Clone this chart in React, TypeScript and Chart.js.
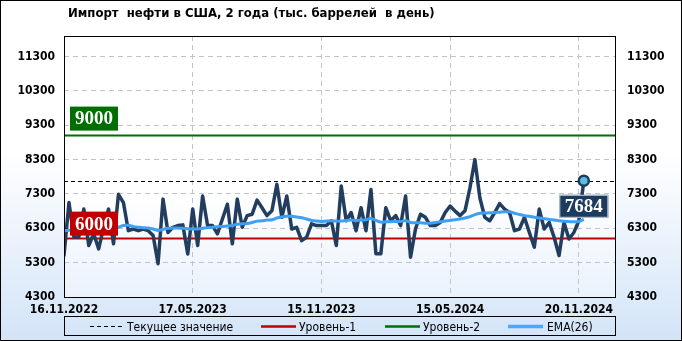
import React, { useEffect, useRef } from "react";
import { Chart, registerables } from "chart.js";

Chart.register(...registerables);

const TITLE = "Импорт  нефти в США, 2 года (тыс. баррелей  в день)";

const VALUES = [
  5510, 7050, 6050, 6050, 6860, 5800, 6140, 5700, 6330, 6860,
  5850, 7290, 7050, 6230, 6280, 6230, 6280, 6230, 6090, 5270,
  7150, 6180, 6330, 6380, 6400, 5550, 6860, 5800, 7240, 6380,
  6380, 6140, 6570, 7000, 5850, 7150, 6330, 6670, 6710, 7120,
  6900, 6670, 6810, 7580, 6620, 7240, 6280, 6330, 5940, 6040,
  6430, 6380, 6380, 6380, 6520, 5800, 7530, 6520, 6760, 6230,
  6900, 6230, 7430, 5560, 5560, 6900, 6520, 6670, 6380, 7240,
  5460, 6280, 6710, 6620, 6380, 6380, 6470, 6760, 6950, 6800,
  6670, 6810, 7480, 8300, 7190, 6620, 6520, 6760, 7020, 6860,
  6760, 6230, 6280, 6620, 6180, 5750, 6860, 6280, 6470, 6040,
  5510, 6470, 5990, 6180, 6520, 7684,
];

const EMA_26 = [
  6230, 6240, 6250, 6260, 6270, 6280, 6290, 6290, 6300, 6300,
  6310, 6330, 6380, 6390, 6350, 6330, 6320, 6310, 6280, 6240,
  6270, 6300, 6310, 6310, 6300, 6290, 6280, 6280, 6300, 6320,
  6330, 6345, 6355, 6370, 6380, 6420, 6430, 6440, 6470, 6510,
  6520, 6540, 6550, 6600, 6630, 6650, 6650, 6630, 6610, 6570,
  6530, 6510, 6500, 6510, 6520, 6510, 6510, 6530, 6540, 6530,
  6540, 6550, 6590, 6530, 6480, 6490, 6490, 6500, 6500, 6520,
  6470, 6460, 6460, 6450, 6450, 6470, 6490, 6510, 6530, 6550,
  6570, 6600, 6640, 6700, 6740, 6745, 6750, 6760, 6770, 6780,
  6780, 6740, 6700, 6670, 6650, 6620, 6600, 6580, 6560, 6540,
  6520, 6505, 6495, 6490, 6500, 6560,
];

const X_TICKS = [0, 26, 52, 78, 104];
const X_TICK_LABELS = ["16.11.2022", "17.05.2023", "15.11.2023", "15.05.2024", "20.11.2024"];
const Y_TICKS = [4300, 5300, 6300, 7300, 8300, 9300, 10300, 11300];
const Y_MIN = 4300;
const Y_MAX = 11900;
const X_MAX = 111.3;
const LEVEL_1 = 6000;
const LEVEL_2 = 9000;
const LEGEND_LABELS = ["Текущее значение", "Уровень-1", "Уровень-2", "EMA(26)"];

const SANS = "'DejaVu Sans Condensed', 'DejaVu Sans', 'Liberation Sans', sans-serif";
const SERIF = "'Liberation Serif', 'DejaVu Serif', serif";
const NAVY = "#223d5e";
const EMA_COLOR = "#3fa0f2";
const RED = "#c00000";
const GREEN = "#006e00";

function levelLabel(ctx: CanvasRenderingContext2D, text: string, x: number, bottom: number, fill: string) {
  const w = 48;
  const h = 24;
  ctx.fillStyle = fill;
  ctx.fillRect(x, bottom - h, w, h);
  ctx.fillStyle = "#ffffff";
  ctx.font = `bold 19px ${SERIF}`;
  ctx.textAlign = "center";
  ctx.textBaseline = "middle";
  ctx.fillText(text, x + w / 2, bottom - h / 2 + 1);
}

const drawPlugin = {
  id: "customDraw",
  beforeDraw(chart: any) {
    const { ctx, chartArea: a, width, height } = chart;
    ctx.save();
    const g = ctx.createLinearGradient(0, 0, 0, height);
    g.addColorStop(0, "#ffffff");
    g.addColorStop(0.45, "#ffffff");
    g.addColorStop(1, "#d3e4f8");
    ctx.fillStyle = g;
    ctx.fillRect(0, 0, width, height);
    const g2 = ctx.createLinearGradient(0, a.top, 0, a.bottom);
    g2.addColorStop(0, "#ffffff");
    g2.addColorStop(0.6, "#ffffff");
    g2.addColorStop(1, "#eaf2fc");
    ctx.fillStyle = g2;
    ctx.fillRect(a.left, a.top, a.right - a.left, a.bottom - a.top);
    ctx.restore();
  },
  beforeDatasetsDraw(chart: any) {
    const { ctx, chartArea: a, scales } = chart;
    const y = scales.y;
    ctx.save();
    ctx.beginPath();
    ctx.rect(a.left, a.top, a.right - a.left, a.bottom - a.top);
    ctx.clip();
    const cur = VALUES[VALUES.length - 1];
    const yc = Math.round(y.getPixelForValue(cur)) + 0.5;
    ctx.strokeStyle = "#000";
    ctx.lineWidth = 1;
    ctx.setLineDash([4, 3]);
    ctx.beginPath();
    ctx.moveTo(a.left, yc);
    ctx.lineTo(a.right, yc);
    ctx.stroke();
    ctx.setLineDash([]);
    ctx.lineWidth = 2;
    ctx.strokeStyle = RED;
    const y1 = y.getPixelForValue(LEVEL_1);
    ctx.beginPath();
    ctx.moveTo(a.left, y1);
    ctx.lineTo(a.right, y1);
    ctx.stroke();
    ctx.strokeStyle = GREEN;
    const y2 = y.getPixelForValue(LEVEL_2);
    ctx.beginPath();
    ctx.moveTo(a.left, y2);
    ctx.lineTo(a.right, y2);
    ctx.stroke();
    ctx.restore();
  },
  afterDatasetsDraw(chart: any) {
    const { ctx, chartArea: a, scales, width, height } = chart;
    const y = scales.y;
    const x = scales.x;
    ctx.save();
    levelLabel(ctx, String(LEVEL_1), a.left + 6, y.getPixelForValue(LEVEL_1) - 3, RED);
    levelLabel(ctx, String(LEVEL_2), a.left + 6, y.getPixelForValue(LEVEL_2) - 5, GREEN);
    const last = VALUES.length - 1;
    const px = x.getPixelForValue(last);
    const py = y.getPixelForValue(VALUES[last]);
    const bw = 49;
    const bh = 23;
    const bx = px - bw / 2;
    const by = py + 14;
    ctx.fillStyle = "#1d3a5f";
    ctx.fillRect(bx, by, bw, bh);
    ctx.strokeStyle = "#c5d3e2";
    ctx.lineWidth = 1;
    ctx.strokeRect(bx + 0.5, by + 0.5, bw - 1, bh - 1);
    ctx.fillStyle = "#fff";
    ctx.font = `bold 19px ${SERIF}`;
    ctx.textAlign = "center";
    ctx.textBaseline = "middle";
    ctx.fillText(String(VALUES[last]), px, by + bh / 2 + 1);
    ctx.strokeStyle = "#000";
    ctx.lineWidth = 1;
    ctx.strokeRect(Math.round(a.left) + 0.5, Math.round(a.top) + 0.5, Math.round(a.right - a.left), Math.round(a.bottom - a.top));
    ctx.strokeRect(0.5, 0.5, width - 1, height - 1);
    ctx.fillStyle = "#000";
    ctx.font = `bold 13px ${SANS}`;
    ctx.textAlign = "left";
    ctx.textBaseline = "middle";
    ctx.fillText(TITLE, 68, 14);
    const ly = 326.5;
    ctx.strokeRect(Math.round(a.left) + 0.5, 316.5, Math.round(a.right - a.left), 19);
    ctx.font = `12px ${SANS}`;
    ctx.fillStyle = "#000";
    const items = [
      { x0: 90, x1: 122, color: "#000", w: 1, dash: [4, 3], tx: 127 },
      { x0: 261, x1: 296, color: RED, w: 2.5, dash: [], tx: 299 },
      { x0: 385, x1: 420, color: GREEN, w: 2.5, dash: [], tx: 423 },
      { x0: 508, x1: 543, color: "#4aa8ff", w: 3.5, dash: [], tx: 547 },
    ];
    items.forEach((it, i) => {
      ctx.strokeStyle = it.color;
      ctx.lineWidth = it.w;
      ctx.setLineDash(it.dash);
      ctx.beginPath();
      ctx.moveTo(it.x0, ly);
      ctx.lineTo(it.x1, ly);
      ctx.stroke();
      ctx.setLineDash([]);
      ctx.fillText(LEGEND_LABELS[i], it.tx, ly + 1);
    });
    ctx.restore();
  },
};

export default function App() {
  const ref = useRef<HTMLCanvasElement | null>(null);
  useEffect(() => {
    document.body.style.margin = "0";
    const canvas = ref.current;
    if (!canvas) return;
    const last = VALUES.length - 1;
    const tickFont = { family: SANS, size: 12, weight: "bold" as const };
    const chart = new Chart(canvas, {
      type: "line",
      data: {
        datasets: [
          {
            label: "EMA(26)",
            data: EMA_26.map((v, i) => ({ x: i, y: v })),
            borderColor: EMA_COLOR,
            borderWidth: 3,
            pointRadius: 0,
            tension: 0.3,
            order: 0,
          },
          {
            label: "Импорт",
            data: VALUES.map((v, i) => ({ x: i, y: v })),
            borderColor: NAVY,
            borderWidth: 3.5,
            borderJoinStyle: "round",
            borderCapStyle: "round",
            pointRadius: (c: any) => (c.dataIndex === last ? 5 : 0),
            pointBackgroundColor: "#5bbde0",
            pointBorderColor: "#1d3a5f",
            pointBorderWidth: 2.5,
            tension: 0,
            order: 1,
          },
        ],
      },
      options: {
        responsive: false,
        animation: false,
        devicePixelRatio: 1,
        layout: { padding: { top: 36, left: 0, right: 0, bottom: 0 } },
        plugins: { legend: { display: false }, tooltip: { enabled: false }, title: { display: false } },
        scales: {
          x: {
            type: "linear",
            min: 0,
            max: X_MAX,
            afterBuildTicks: (s: any) => {
              s.ticks = X_TICKS.map((v) => ({ value: v }));
            },
            afterFit: (s: any) => {
              s.height = 44;
            },
            ticks: {
              autoSkip: false,
              maxRotation: 0,
              minRotation: 0,
              padding: 6,
              color: "#000",
              font: tickFont,
              callback: (_v: any, i: number) => X_TICK_LABELS[i],
            },
            grid: { color: "#c4c4c4", drawTicks: false, lineWidth: 1 },
            border: { display: false, dash: [5, 4] },
          },
          y: {
            position: "left",
            min: Y_MIN,
            max: Y_MAX,
            afterBuildTicks: (s: any) => {
              s.ticks = Y_TICKS.map((v) => ({ value: v }));
            },
            afterFit: (s: any) => {
              s.width = 64;
            },
            ticks: { padding: 9, color: "#000", font: tickFont, callback: (v: any) => String(v) },
            grid: { color: "#c4c4c4", drawTicks: false, lineWidth: 1 },
            border: { display: false, dash: [5, 4] },
          },
          y2: {
            position: "right",
            min: Y_MIN,
            max: Y_MAX,
            afterBuildTicks: (s: any) => {
              s.ticks = Y_TICKS.map((v) => ({ value: v }));
            },
            afterFit: (s: any) => {
              s.width = 67;
            },
            ticks: { padding: 12, color: "#000", font: tickFont, callback: (v: any) => String(v) },
            grid: { display: false, drawTicks: false },
            border: { display: false },
          },
        },
      },
      plugins: [drawPlugin],
    });
    return () => chart.destroy();
  }, []);
  return (
    <div style={{ width: 682, height: 341 }}>
      <canvas ref={ref} width={682} height={341} style={{ width: 682, height: 341, display: "block" }} />
    </div>
  );
}
